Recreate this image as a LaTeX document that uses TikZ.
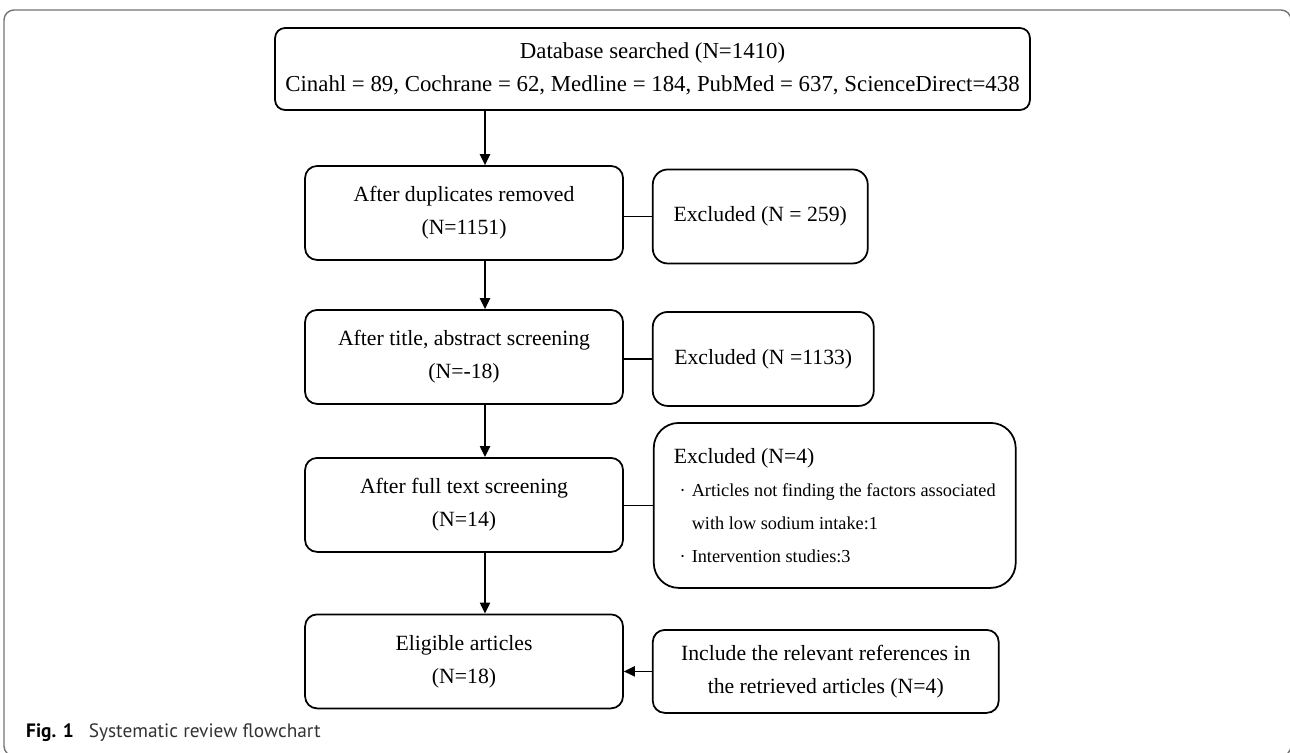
\documentclass[tikz,border=0pt]{standalone}
\usepackage{fontspec}
\setmainfont{Liberation Serif}
\newfontfamily\capfont{PT Sans}
\usepackage{tikz}
\usetikzlibrary{arrows.meta, calc}
\tikzstyle{box} = [rectangle, rounded corners=0.24cm, minimum width=6.36cm, minimum height=1.88cm, text centered, align=center, draw=black, line width=1pt]
\tikzstyle{line} = [line width=0.8pt]
\tikzstyle{arrow} = [line width=0.8pt, -{Triangle[length=6.2pt, width=5.8pt]}]
\newcommand{\smalltext}{\fontsize{10.4}{18.8}\selectfont}
\newcommand{\bul}{\makebox[0.36cm]{·}}

\begin{document}
\begin{tikzpicture}[x=0.02cm, y=-0.02cm, node distance=2.88cm, font=\fontsize{12.36}{18.8}\selectfont]
  \useasboundingbox (0,0) rectangle (1290,753);
  % outer frame
  \draw [black!55, line width=0.8pt, rounded corners=0.2cm] (4,10) rectangle (1291,756);

  \node (1) [box, minimum width=15.1cm, minimum height=1.64cm, rounded corners=0.2cm, font=\fontsize{13}{19}\selectfont] at (652.5,69) {Database searched (N=1410)\\Cinahl = 89, Cochrane = 62, Medline = 184, PubMed = 637, ScienceDirect=438};
  \node (2) [box, below of=1, xshift=-3.77cm] {After duplicates removed\\(N=1151)};
  \node (3) [box, below of=2] {After title, abstract screening\\(N=-18)};
  \node (4) [box, below of=3, yshift=-0.08cm] {After full text screening\\(N=14)};
  \node (5) [box, below of=4, yshift=-0.25cm] {Eligible articles\\(N=18)};

  \node (6) [box, minimum width=4.3cm, rounded corners=0.3cm, anchor=west] at ($(2.east)+(28,3.5)$) {Excluded (N = 259)};
  \node (7) [box, minimum width=4.42cm, rounded corners=0.3cm, anchor=west] at ($(3.east)+(28,2)$) {Excluded (N =1133)};
  \node (8) [box, minimum width=7.24cm, minimum height=3.3cm, align=left, rounded corners=0.5cm, anchor=west] at ($(4.east)+(29,0.5)$)
    {Excluded (N=4)\\
     {\smalltext\bul Articles not finding the factors associated}\\
     {\smalltext\hspace*{0.36cm}with low sodium intake:1}\\
     {\smalltext\bul Intervention studies:3}};
  \node (9) [box, minimum width=6.92cm, minimum height=1.66cm, anchor=west] at ($(5.east)+(28,10)$) {Include the relevant references in\\the retrieved articles (N=4)};

  \node (10) [anchor=west, font=\capfont\fontsize{11}{13}\selectfont, text=black!80] at (20,733) {\textcolor{black}{\textbf{Fig. 1}}\hspace{0.3cm}Systematic review flowchart};

  \coordinate (c) at (485,0);
  \draw [arrow] (1.south -| c) -- (2.north -| c);
  \draw [arrow] (2.south -| c) -- (3.north -| c);
  \draw [arrow] (3.south -| c) -- (4.north -| c);
  \draw [arrow] (4.south -| c) -- (5.north -| c);
  \draw [arrow] (9.west) -- (9.west -| 5.east);
  \draw [line] (2.east |- 6.west) -- (6.west);
  \draw [line] (3.east |- 7.west) -- (7.west);
  \draw [line] (4.east |- 8.west) -- (8.west);
\end{tikzpicture}
\end{document}
